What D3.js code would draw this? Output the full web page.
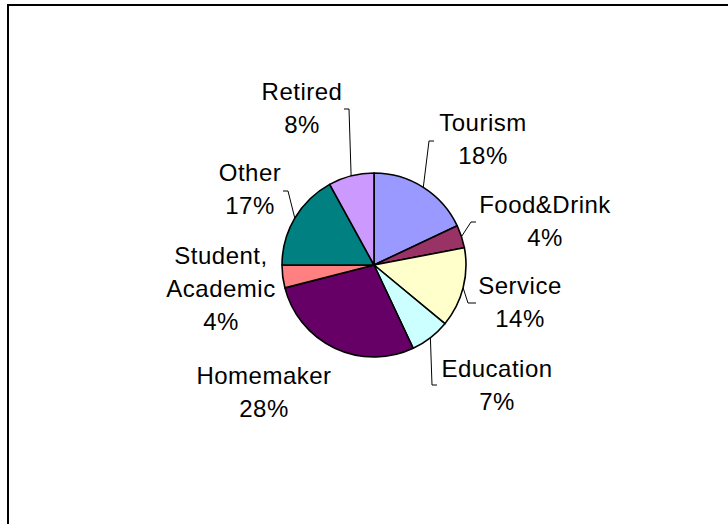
<!DOCTYPE html>
<html>
<head>
<meta charset="utf-8">
<script src="https://cdn.jsdelivr.net/npm/d3@7"></script>
<style>
  html, body { margin: 0; padding: 0; background: #fff; }
  svg { display: block; }
  text { font-family: "Liberation Sans", Arial, sans-serif; font-size: 24px; letter-spacing: 0.5px; fill: #000; }
</style>
</head>
<body>
<svg id="chart" width="728" height="524"></svg>
<script>
// Occupation shares (percent), clockwise from 12 o'clock
const categories = ["Tourism", "Food&Drink", "Service", "Education", "Homemaker", "Student, Academic", "Other", "Retired"];
const values = [18, 4, 14, 7, 28, 4, 17, 8];
const colors = ["#9999FF", "#993366", "#FFFFCC", "#CCFFFF", "#660066", "#FF8080", "#008080", "#CC99FF"];

// Label placement: name lines, centre x, first-line y, optional leader elbow/end
const labelLayout = [
  { lines: ["Tourism"], x: 483, y: 122, elbow: [429, 141], end: [434, 141] },
  { lines: ["Food&Drink"], x: 545, y: 204, elbow: [471, 222], end: [476, 222] },
  { lines: ["Service"], x: 520, y: 285, elbow: [468, 303], end: [476, 303] },
  { lines: ["Education"], x: 497, y: 368, elbow: [432, 385], end: [437, 385] },
  { lines: ["Homemaker"], x: 264, y: 375, elbow: null, end: null },
  { lines: ["Student,", "Academic"], x: 221, y: 255, elbow: null, end: null },
  { lines: ["Other"], x: 250, y: 172, elbow: [288, 191], end: [283, 191] },
  { lines: ["Retired"], x: 302, y: 91, elbow: [349, 109], end: [344, 109] }
];

const svg = d3.select("#chart");
const lineGap = 33;
const cx = 374, cy = 265, r = 92;

// outer frame
svg.append("rect")
  .attr("x", 8).attr("y", 5)
  .attr("width", 760).attr("height", 560)
  .attr("fill", "none")
  .attr("stroke", "#000")
  .attr("stroke-width", 2);

const data = categories.map((c, i) => ({ name: c, value: values[i], color: colors[i], layout: labelLayout[i] }));

const pie = d3.pie().value(d => d.value).sort(null);
const arcs = pie(data);
const arc = d3.arc().innerRadius(0).outerRadius(r);
const rim = d3.arc().innerRadius(r).outerRadius(r);

const g = svg.append("g").attr("transform", `translate(${cx},${cy})`);

g.selectAll("path.slice")
  .data(arcs)
  .enter().append("path")
  .attr("class", "slice")
  .attr("d", arc)
  .attr("fill", d => d.data.color)
  .attr("stroke", "#000")
  .attr("stroke-width", 1.6)
  .attr("stroke-linejoin", "round");

// leader lines from slice rim to label
arcs.forEach(a => {
  const L = a.data.layout;
  if (!L.elbow) return;
  const p = rim.centroid(a);
  const pts = [[cx + p[0], cy + p[1]], L.elbow, L.end];
  svg.append("path")
    .attr("d", d3.line()(pts))
    .attr("fill", "none")
    .attr("stroke", "#000")
    .attr("stroke-width", 1);
});

// category labels with percentages
arcs.forEach(a => {
  const L = a.data.layout;
  const pct = Math.round(a.data.value / d3.sum(values) * 100) + "%";
  const lines = L.lines.concat([pct]);
  const t = svg.append("text")
    .attr("text-anchor", "middle")
    .attr("x", L.x)
    .attr("y", L.y);
  lines.forEach((s, i) => {
    t.append("tspan")
      .attr("x", L.x)
      .attr("y", L.y + i * lineGap)
      .attr("dy", "0.36em")
      .text(s);
  });
});
</script>
</body>
</html>
